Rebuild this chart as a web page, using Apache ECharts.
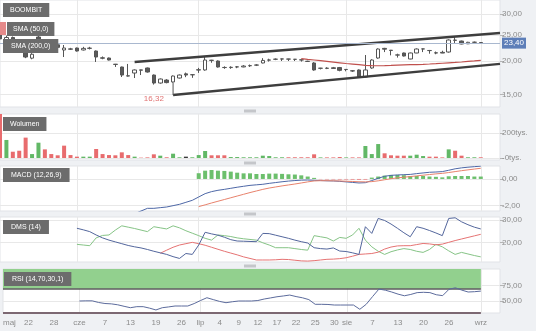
<!DOCTYPE html>
<html><head><meta charset="utf-8">
<script src="https://cdn.jsdelivr.net/npm/echarts@6/dist/echarts.min.js"></script>
<style>html,body{margin:0;padding:0;background:#eff1f4;}#c{width:536px;height:331px;}</style>
</head><body><div id="c"></div><script>
// ---- data (2019 trading days, BOOMBIT) ----
const categories = ['05-16','05-17','05-20','05-21','05-22','05-23','05-24','05-27','05-28','05-29','05-30','05-31',
'06-03','06-04','06-05','06-06','06-07','06-10','06-11','06-12','06-13','06-14','06-17','06-18','06-19','06-21','06-24','06-25','06-26','06-27','06-28',
'07-01','07-02','07-03','07-04','07-05','07-08','07-09','07-10','07-11','07-12','07-15','07-16','07-17','07-18','07-19','07-22','07-23','07-24','07-25','07-26','07-29','07-30','07-31',
'08-01','08-02','08-05','08-06','08-07','08-08','08-09','08-12','08-13','08-14','08-16','08-19','08-20','08-21','08-22','08-23','08-26','08-27','08-28','08-29','08-30',
'09-02','09-03','09-04','09-05'];
const tickLabels = [['05-16','maj'],['05-22','22'],['05-28','28'],['06-03','cze'],['06-07','7'],['06-13','13'],['06-19','19'],['06-26','26'],['07-01','lip'],['07-04','4'],['07-09','9'],['07-12','12'],['07-17','17'],['07-22','22'],['07-25','25'],['07-30','30'],['08-01','sie'],['08-07','7'],['08-13','13'],['08-20','20'],['08-26','26'],['09-02','wrz']];
const monthStarts = ['06-03','07-01','08-01','09-02'];
const opens = [26.0,24.0,24.5,23.8,22.4,20.5,24.6,23.8,23.4,23.0,
21.99,22.2,22.37,22.0,22.3,21.8,20.55,20.52,19.45,18.99,
17.6,18.03,18.52,18.83,17.72,16.54,16.97,16.69,17.27,17.9,
17.78,18.5,18.51,20.1,20.0,18.9,18.9,19.0,19.0,19.2,
19.3,19.66,20.15,20.3,20.36,20.34,20.3,20.2,19.95,19.66,
18.8,18.8,18.86,18.9,18.6,18.38,18.51,17.42,18.83,20.52,
22.3,21.95,21.05,21.43,20.35,21.43,22.2,21.9,21.46,21.55,
21.61,23.95,23.76,23.2,23.5,23.45];
const highs = [29.5,24.9,24.7,24.0,22.6,21.4,24.8,24.1,23.6,23.1,
22.96,22.4,22.45,22.6,22.6,21.9,20.8,20.6,19.5,19.05,
19.5,18.6,18.55,18.9,17.8,17.2,17.1,17.65,17.8,18.1,
17.82,18.85,20.7,20.2,20.1,19.1,19.1,19.15,19.3,19.4,
19.45,20.5,20.4,20.45,20.4,20.38,20.35,20.25,20.05,19.8,
18.85,18.95,19.0,19.0,18.65,18.5,18.6,21.06,20.3,22.3,
22.4,22.0,21.3,21.5,21.5,22.3,22.25,22.0,21.7,21.85,
24.1,24.6,23.85,23.6,23.65,23.55];
const lows = [23.8,23.5,23.6,22.9,20.5,20.3,23.4,23.0,22.8,22.3,
20.7,22.0,21.7,21.9,22.1,19.83,20.3,20.1,19.0,17.42,
17.5,17.27,17.72,18.1,16.32,16.45,16.5,16.6,17.2,17.4,
17.3,18.05,18.4,19.7,18.9,18.7,18.7,18.8,18.95,19.0,
19.15,19.6,19.9,20.15,20.0,20.0,20.0,19.9,19.85,18.4,
18.6,18.65,18.7,18.3,18.3,18.2,17.35,17.35,18.7,20.4,
21.6,21.0,20.6,20.8,20.3,21.4,21.6,21.3,21.2,21.4,
21.5,23.35,23.1,23.15,23.35,23.3];
const closes = [24.2,24.5,23.8,23.1,20.7,21.2,23.6,23.3,23.0,22.5,
22.37,22.15,21.8,22.3,22.35,20.7,20.5,20.17,19.42,17.72,
17.57,18.51,18.48,18.19,16.54,17.12,16.6,17.57,17.72,17.72,
17.75,18.55,20.17,20.14,18.99,18.92,18.95,19.02,19.15,19.22,
19.32,20.1,20.18,20.32,20.35,20.33,20.29,20.18,19.93,18.51,
18.78,18.77,18.76,18.45,18.58,18.35,17.42,18.51,20.17,22.18,
22.15,21.9,21.08,20.88,21.43,22.18,22.19,21.88,21.43,21.42,
23.97,23.9,23.16,23.5,23.52,23.40];
const volumes = [620000,146000,51000,59000,165000,32000,124000,70000,32000,22000,
100000,24000,11000,11000,11000,73000,32000,24000,22000,46000,
24000,11000,3000,5000,30000,19000,6000,35000,6000,11000,
6000,24000,57000,22000,22000,22000,8000,8000,6000,6000,
6000,19000,16000,6000,6000,6000,6000,6000,6000,30000,
5000,5000,5000,8000,5000,5000,5000,97000,32000,113000,
38000,22000,19000,19000,19000,27000,16000,11000,11000,5000,
70000,59000,19000,6000,6000,6000];
const sma50Start = 47;
const sma50 = [20.42,20.29,20.17,20.05,19.93,19.81,19.69,19.57,19.47,19.37,19.27,19.22,19.20,19.22,19.25,19.30,19.34,19.37,19.40,19.44,19.49,19.55,19.62,19.69,19.75,19.83,19.93,20.02,20.12];
// trend channel drawn on the chart: [category index, price]
const channelUpper = [[21,19.83],[78,25.47]];
const channelLower = [[27,14.91],[78,19.51]];
const channelLink = [[27,16.6],[27,14.91]];
const macdStart = 21;
const macdLine = [-2.6,-2.4,-2.2,-2.2,-2.15,-2.1,-2.0,-1.9,-1.75,-1.6,
-1.35,-1.1,-0.95,-0.85,-0.78,-0.7,-0.62,-0.55,-0.48,-0.44,
-0.4,-0.33,-0.27,-0.21,-0.16,-0.12,-0.09,-0.08,-0.1,-0.12,
-0.14,-0.15,-0.18,-0.22,-0.26,-0.3,-0.28,-0.12,0.05,0.2,
0.27,0.3,0.32,0.34,0.4,0.45,0.5,0.52,0.55,0.65,
0.76,0.83,0.88,0.92,0.96];
const signalStart = 31;
const signalLine = [-2.07,-1.94,-1.8,-1.67,-1.54,-1.41,-1.28,-1.15,-1.02,-0.9,
-0.78,-0.68,-0.6,-0.52,-0.45,-0.38,-0.3,-0.22,-0.15,-0.13,
-0.13,-0.14,-0.15,-0.17,-0.19,-0.21,-0.22,-0.2,-0.14,-0.06,
0.02,0.08,0.13,0.18,0.23,0.28,0.33,0.38,0.42,0.48,
0.55,0.62,0.68,0.74,0.8];
const histStart = 31;
const macdHist = [0.43,0.62,0.67,0.62,0.6,0.55,0.47,0.42,0.42,0.37,
0.37,0.4,0.4,0.38,0.35,0.33,0.27,0.18,0.08,-0.03,
-0.04,-0.04,-0.05,-0.05,-0.06,-0.07,-0.06,0.1,0.18,0.25,
0.3,0.3,0.28,0.22,0.22,0.22,0.18,0.16,0.12,0.2,
0.22,0.22,0.22,0.18,0.18];
const dmsStart = 12;
const dmsMinus = [26.3,25.6,24.8,23.3,22.0,21.0,20.2,19.4,18.6,18.0,
17.5,16.8,16.0,15.3,14.6,13.6,12.8,15.0,14.6,18.8,
24.5,23.8,23.2,22.3,21.2,20.6,20.5,20.4,20.3,24.0,
23.9,23.2,22.5,21.8,21.0,20.3,19.7,17.6,17.2,17.0,
17.5,16.1,15.9,15.3,14.6,27.0,24.0,30.7,29.8,28.2,
26.3,24.3,22.5,27.0,26.3,25.3,24.2,23.0,30.7,31.0,
29.2,27.9,26.8,26.0];
const dmsPlus = [19.1,18.8,18.5,22.0,23.1,23.3,25.5,27.4,26.8,26.2,
25.5,24.8,27.0,26.5,26.0,27.4,26.5,25.2,24.1,23.0,
21.8,21.0,23.3,23.0,22.6,22.0,21.6,21.3,21.0,19.8,
18.8,17.6,17.6,17.6,17.2,16.8,16.5,23.0,22.5,22.0,
20.6,22.2,21.8,23.3,26.3,21.0,18.0,16.0,14.6,15.8,
16.6,17.2,16.8,16.0,15.5,16.8,19.1,18.0,16.2,14.6,
15.5,14.8,14.1,13.5];
const adxStart = 25;
const adx = [15.1,16.5,17.8,18.8,19.4,20.0,19.4,18.7,17.8,16.9,
16.0,15.2,14.4,13.5,12.8,12.1,12.1,12.1,12.2,12.4,
12.3,12.0,11.7,11.6,11.8,12.1,12.4,12.5,12.7,13.1,
13.8,14.6,14.8,15.0,15.6,17.0,17.9,18.4,18.5,18.5,
19.0,19.5,19.3,18.9,19.2,20.0,20.8,21.5,22.2,22.9,23.6];
const rsiStart = 12;
const rsi = [49.7,50.0,50.0,47.3,45.6,45.0,43.5,41.0,38.7,40.4,
40.4,38.0,35.0,38.7,40.0,41.5,41.5,41.5,45.5,50.5,
55.1,52.0,49.0,46.9,48.5,49.7,49.7,49.7,50.5,53.0,
54.8,56.7,58.0,59.5,57.0,55.0,52.0,44.3,44.3,44.0,
43.1,43.1,43.1,43.1,36.1,44.3,57.0,69.3,67.5,64.5,
61.0,58.3,60.5,63.5,64.0,63.5,60.0,58.5,69.0,71.4,
67.6,64.5,65.0,66.0];
const priceTicks = [15,20,25,30];
const volumeTicks = [0,200000];
const macdTicks = [-2,0];
const dmsTicks = [20,30];
const rsiTicks = [50,75];
const rsiLevels = [30,70];

// ---- build ----
const N = categories.length;
const pad = (start, arr) => { const o = new Array(N).fill(null); arr.forEach((v,i)=>{o[start+i]=v;}); return o; };
const L = Math.log;
const fmt = v => v.toFixed(2).replace('.', ',');
const tickMap = new Map(tickLabels);
const monthSet = new Set(monthStarts);
const lastIdx = closes.length - 1;
const lastClose = closes[lastIdx];
const minLow = Math.min(...lows);
const minIdx = lows.indexOf(minLow);

const candleData = opens.map((o,i)=>[L(o), L(closes[i]), L(lows[i]), L(highs[i])]);
const volData = volumes.map((v,i)=>{
  const d = i===0 ? -1 : Math.sign(closes[i]-closes[i-1]);
  return {value:v, itemStyle:{color: d>0 ? '#62b866' : (d<0 ? '#e86c6e' : '#3a3a3a')}};
});
const histData = pad(histStart, macdHist).map(v => v===null ? null : {value:v, itemStyle:{color: v>=0 ? '#6cbf6c' : '#ea8a8a'}});

const FONT = 'Liberation Sans, Arial, sans-serif';
const grids = [[0,107],[114,46],[166,45],[217,45],[269,44]];
const gridOpt = grids.map(([t,h])=>({left:0, top:t, width:500, height:h, show:true, backgroundColor:'#fff', borderColor:'#e1e3e7', borderWidth:1}));
const xAxes = grids.map((g,i)=>({
  type:'category', gridIndex:i, data:categories, boundaryGap:false,
  axisLine:{show:false}, axisTick:{show:false},
  axisLabel: i===4 ? {show:true, interval:(idx,val)=>tickMap.has(val), formatter:val=>tickMap.get(val)||'', color:'#8c8c8c', fontSize:8, margin:6, alignMinLabel:'left', fontFamily:FONT} : {show:false},
  splitLine:{show:true, interval:(idx,val)=>monthSet.has(val), lineStyle:{color:'#e8e8e8', width:1}}
}));
function yAx(i, min, max, ticks, fmtFn){
  return {type:'value', gridIndex:i, position:'right', min, max, scale:true,
    axisLine:{show:false},
    axisTick:{show:true, length:4, lineStyle:{color:'#b5b5b5'}, customValues:ticks},
    axisLabel:{show:true, color:'#8c8c8c', fontSize:8, margin:2, customValues:ticks, formatter:fmtFn, fontFamily:FONT},
    splitLine:{show:true, lineStyle:{color:'#e8e8e8', width:1}}};
}
const yAxes = [
  yAx(0, L(13.45), L(33.85), priceTicks.map(L), v=>fmt(Math.exp(v))),
  yAx(1, -16000, 356000, volumeTicks, v=> (v<=0 ? '-0' : Math.round(v/1000)) + 'tys.'),
  yAx(2, -2.4, 0.97, macdTicks, v=>fmt(v)),
  yAx(3, 11.2, 31.35, dmsTicks, v=>fmt(v)),
  yAx(4, 30, 102.3, rsiTicks, v=>fmt(v))
];

const box = (text, left, top, ph) => ({text, left, top, backgroundColor:'#6c6c6c', padding:[3,ph],
  textStyle:{color:'#fff', fontSize:7, fontWeight:'normal', lineHeight:8, fontFamily:FONT}});

const graphics = [109.5,161.5,212.5,264.5].map(y=>({type:'rect', shape:{x:244,y:y,width:12,height:3}, style:{fill:'#c4c6ca'}, z:100}));
graphics.push({type:'rect', shape:{x:0,y:22,width:6,height:13}, style:{fill:'#e58a8a'}, z:90});

const option = {
  animation:false,
  backgroundColor:'#eff1f4',
  textStyle:{fontFamily:FONT},
  title:[box('BOOMBIT',3,3,7), box('SMA (50,0)',7,22,6), box('SMA (200,0)',3,39,8),
         box('Wolumen',3,117,7), box('MACD (12,26,9)',3,168,8), box('DMS (14)',3,220,8), box('RSI (14,70,30,1)',4,272,8)],
  grid:gridOpt, xAxis:xAxes, yAxis:yAxes,
  graphic:graphics,
  series:[
    {type:'candlestick', xAxisIndex:0, yAxisIndex:0, data:candleData, barWidth:4,
     itemStyle:{color:'#ffffff', color0:'#5a5a5a', borderColor:'#555', borderColor0:'#555', borderWidth:1},
     markLine:{silent:true, symbol:['none','none'], data:[{yAxis:L(lastClose)}],
       lineStyle:{color:'#a9b8cf', width:1, type:'solid'},
       label:{position:'end', formatter:fmt(lastClose), backgroundColor:'#5d7eb8', color:'#fff', padding:[2,2,1,2], fontSize:8, distance:2}},
     markPoint:{silent:true, data:[{coord:[minIdx, L(minLow)], symbolSize:0,
       label:{show:true, formatter:fmt(minLow), color:'#e07272', fontSize:8, offset:[0,14]}}]}},
    {type:'line', xAxisIndex:0, yAxisIndex:0, data:pad(sma50Start, sma50).map(v=>v===null?null:L(v)), symbol:'none', lineStyle:{color:'#c0504d', width:1.2}},
    {type:'line', xAxisIndex:0, yAxisIndex:0, data:channelUpper.map(([x,p])=>[x,L(p)]), symbol:'none', lineStyle:{color:'#3e3e3e', width:2.5}},
    {type:'line', xAxisIndex:0, yAxisIndex:0, data:channelLower.map(([x,p])=>[x,L(p)]), symbol:'none', lineStyle:{color:'#3e3e3e', width:2.5}},
    {type:'line', xAxisIndex:0, yAxisIndex:0, data:channelLink.map(([x,p])=>[x,L(p)]), symbol:'none', lineStyle:{color:'#555', width:1}},
    {type:'bar', xAxisIndex:1, yAxisIndex:1, data:volData, barWidth:4},
    {type:'bar', xAxisIndex:2, yAxisIndex:2, data:histData, barWidth:4},
    {type:'line', xAxisIndex:2, yAxisIndex:2, data:pad(macdStart, macdLine), symbol:'none', lineStyle:{color:'#4d67a6', width:1}},
    {type:'line', xAxisIndex:2, yAxisIndex:2, data:pad(signalStart, signalLine), symbol:'none', lineStyle:{color:'#e8826c', width:1}},
    {type:'line', xAxisIndex:3, yAxisIndex:3, data:pad(dmsStart, dmsPlus), symbol:'none', lineStyle:{color:'#86c486', width:1}},
    {type:'line', xAxisIndex:3, yAxisIndex:3, data:pad(adxStart, adx), symbol:'none', lineStyle:{color:'#e57373', width:1}},
    {type:'line', xAxisIndex:3, yAxisIndex:3, data:pad(dmsStart, dmsMinus), symbol:'none', lineStyle:{color:'#53669c', width:1}},
    {type:'line', xAxisIndex:4, yAxisIndex:4, data:pad(rsiStart, rsi), symbol:'none', lineStyle:{color:'#5c6b9c', width:1}, z:5,
     markArea:{silent:true, itemStyle:{color:'#92d08e'}, data:[[{coord:[categories[0], rsiLevels[1]]},{coord:[categories[lastIdx], 102.3]}]]},
     markLine:{silent:true, symbol:['none','none'], label:{show:false},
       data:[[{coord:[categories[0], rsiLevels[1]], lineStyle:{color:'#5a5a5a', width:1.5, type:'solid'}},{coord:[categories[lastIdx], rsiLevels[1]]}],
             [{coord:[categories[0], rsiLevels[0]], lineStyle:{color:'#7c6872', width:2, type:'solid'}},{coord:[categories[lastIdx], rsiLevels[0]]}]]}}
  ]
};
const chart = echarts.init(document.getElementById('c'));
chart.setOption(option);
</script></body></html>
